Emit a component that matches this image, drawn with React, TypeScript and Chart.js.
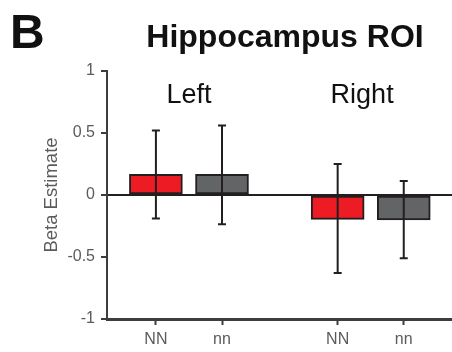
import React, { useEffect, useRef } from "react";
import { Chart, registerables } from "chart.js";

Chart.register(...registerables);

const tickLabels = ["NN", "nn", "NN", "nn"];
const barPositions = [1, 2, 3.75, 4.75];
const betaValues = [0.167, 0.167, -0.196, -0.2];
const errorUpper = [0.52, 0.56, 0.25, 0.113];
const errorLower = [-0.19, -0.235, -0.63, -0.51];
const barColors = ["#ed1c24", "#636466", "#ed1c24", "#636466"];
const groupLabels = ["Left", "Right"];
const groupCenters = [1.5, 4.12];
const yTicks = [-1, -0.5, 0, 0.5, 1];

const FONT = "'Liberation Sans', Arial, Helvetica, sans-serif";
const DARK = "#231f20";
const AXIS = "#3d3d3f";
const TEXT = "#5a5b5d";

const extrasPlugin = {
  id: "extras",
  afterDatasetsDraw(chart: any) {
    const { ctx, scales } = chart;
    const meta = chart.getDatasetMeta(0);
    ctx.save();
    ctx.strokeStyle = DARK;
    ctx.lineWidth = 2;
    meta.data.forEach((bar: any, i: number) => {
      const x = bar.x;
      const yTop = scales.y.getPixelForValue(errorUpper[i]);
      const yBot = scales.y.getPixelForValue(errorLower[i]);
      ctx.beginPath();
      ctx.moveTo(x, yTop);
      ctx.lineTo(x, yBot);
      ctx.moveTo(x - 4, yTop);
      ctx.lineTo(x + 4, yTop);
      ctx.moveTo(x - 4, yBot);
      ctx.lineTo(x + 4, yBot);
      ctx.stroke();
    });
    ctx.restore();
  },
  afterDraw(chart: any) {
    const { ctx, scales } = chart;
    ctx.save();
    ctx.fillStyle = "#111111";
    ctx.textBaseline = "alphabetic";
    ctx.font = `bold 48px ${FONT}`;
    ctx.textAlign = "left";
    ctx.fillText("B", 10, 48);
    ctx.font = `bold 32px ${FONT}`;
    ctx.textAlign = "center";
    ctx.fillText("Hippocampus ROI", 285, 47);
    ctx.font = `27px ${FONT}`;
    groupLabels.forEach((t, i) => {
      ctx.fillText(t, scales.x.getPixelForValue(groupCenters[i]), 103);
    });
    ctx.restore();
  },
};

export default function App() {
  const ref = useRef<HTMLCanvasElement | null>(null);
  useEffect(() => {
    if (!ref.current) return;
    const chart = new Chart(ref.current, {
      type: "bar",
      data: {
        datasets: [
          {
            data: barPositions.map((x, i) => ({ x, y: betaValues[i] })),
            backgroundColor: barColors,
            borderColor: DARK,
            borderWidth: 2,
            borderSkipped: false,
            barThickness: 53,
          } as any,
        ],
      },
      options: {
        animation: false,
        responsive: false,
        maintainAspectRatio: false,
        layout: { padding: { left: 0, right: 0, top: 71, bottom: 0 } },
        plugins: { legend: { display: false }, tooltip: { enabled: false } },
        scales: {
          x: {
            type: "linear",
            min: 0.26,
            max: 5.48,
            offset: false,
            afterBuildTicks: (scale: any) => {
              scale.ticks = barPositions.map((v) => ({ value: v }));
            },
            afterFit: (scale: any) => {
              scale.height = 33;
            },
            ticks: {
              autoSkip: false,
              maxRotation: 0,
              padding: 5,
              color: TEXT,
              font: { family: FONT, size: 16 },
              callback: (v: any) => {
                const i = barPositions.indexOf(Number(v));
                return i >= 0 ? tickLabels[i] : "";
              },
            },
            grid: {
              offset: false,
              drawOnChartArea: false,
              tickLength: 6,
              tickColor: AXIS,
              tickWidth: 2,
            },
            border: { display: true, color: AXIS, width: 3 },
          },
          y: {
            min: -1,
            max: 1,
            afterBuildTicks: (scale: any) => {
              scale.ticks = yTicks.map((v) => ({ value: v }));
            },
            afterFit: (scale: any) => {
              scale.width = 107;
            },
            ticks: {
              padding: 6,
              color: TEXT,
              font: { family: FONT, size: 16 },
              callback: (v: any) => String(v),
            },
            grid: {
              drawOnChartArea: true,
              color: (c: any) => (c.tick && c.tick.value === 0 ? DARK : "transparent"),
              lineWidth: (c: any) => (c.tick && c.tick.value === 0 ? 2 : 0),
              tickLength: 6,
              tickColor: AXIS,
              tickWidth: 2,
            },
            border: { display: true, color: AXIS, width: 2 },
            title: {
              display: true,
              text: "Beta Estimate",
              color: TEXT,
              font: { family: FONT, size: 18.5 },
              padding: { top: 41, bottom: 0 },
            },
          },
        },
      },
      plugins: [extrasPlugin],
    });
    return () => chart.destroy();
  }, []);
  return (
    <div style={{ position: "fixed", left: 0, top: 0, width: 452, height: 352, background: "#fff" }}>
      <canvas ref={ref} width={452} height={352} style={{ display: "block", width: 452, height: 352 }} />
    </div>
  );
}
